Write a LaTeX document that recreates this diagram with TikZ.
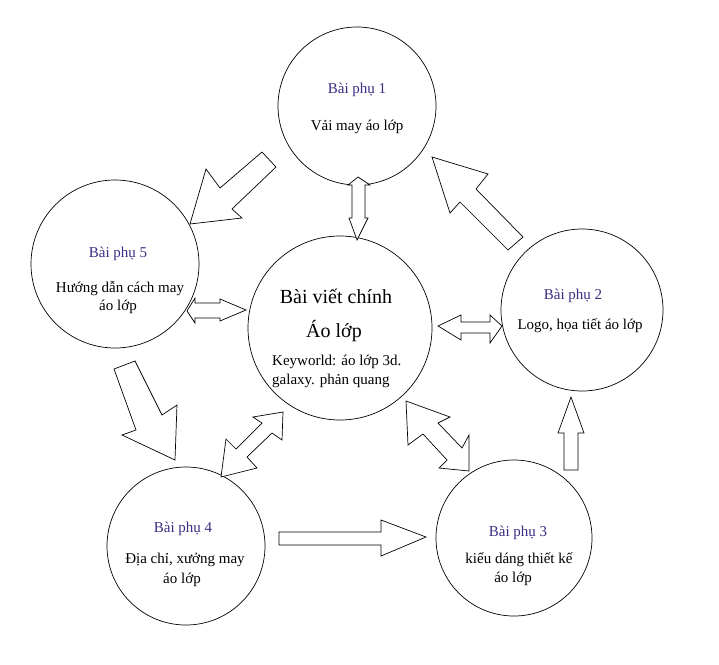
\documentclass[tikz,border=0pt]{standalone}
\usepackage{fontspec}
\setmainfont{Liberation Serif}
\definecolor{subc}{RGB}{62,44,130}
\tikzset{
  circ/.style={circle,draw=black,line width=0.7pt,inner sep=0pt},
  blk/.style={draw=black,fill=white,line width=0.7pt,line join=miter},
  ttl/.style={anchor=base,text=subc,font=\fontsize{15}{17}\selectfont,inner sep=0pt},
  txt/.style={anchor=base,text=black,font=\fontsize{15}{17}\selectfont,inner sep=0pt},
  big/.style={anchor=base,text=black,font=\fontsize{20}{22}\selectfont,inner sep=0pt}
}
\begin{document}
\begin{tikzpicture}[x=1pt,y=-1pt]
\useasboundingbox[fill=white] (0,0) rectangle (719,664);
% circles
\node[circ,minimum size=158pt] (c1) at (357,106) {};
\node[circ,minimum size=168pt] (c5) at (115,264) {};
\node[circ,minimum size=184pt] (cm) at (340,328) {};
\node[circ,minimum size=162pt] (c2) at (582,310) {};
\node[circ,minimum size=158pt] (c4) at (186,546) {};
\node[circ,minimum size=156pt] (c3) at (514,538) {};
% texts
\node[ttl] (t1) at (357,93) {Bài phụ 1};
\node[txt] (d1) at (357,130) {Vải may áo lớp};
\node[ttl] (t5) at (118,257) {Bài phụ 5};
\node[txt] (d5a) at (120,292) {Hướng dẫn cách may};
\node[txt] (d5b) at (118,310) {áo lớp};
\node[big] (tm) at (336,303) {Bài viết chính};
\node[big] (am) at (334,337) {Áo lớp};
\node[txt,anchor=base west] (km1) at (272,365) {Keyworld: áo lớp 3d.};
\node[txt,anchor=base west] (km2) at (272,384) {galaxy. phản quang};
\node[ttl] (t2) at (573,299) {Bài phụ 2};
\node[txt] (d2) at (580,329) {Logo, họa tiết áo lớp};
\node[ttl] (t4) at (183,532) {Bài phụ 4};
\node[txt] (d4a) at (185,563) {Địa chỉ, xưởng may};
\node[txt] (d4b) at (182,583) {áo lớp};
\node[ttl] (t3) at (518,536) {Bài phụ 3};
\node[txt] (d3a) at (519,563) {kiểu dáng thiết kế};
\node[txt] (d3b) at (513,582) {áo lớp};
% block arrows
% A: toward circle 5
\draw[blk] (262,152) -- (220,188) -- (206,169) -- (190,224) -- (242,218) -- (232,209) -- (276,167) -- cycle;
% B: toward circle 1
\draw[blk] (432,157) -- (488,174) -- (476,189) -- (523,237) -- (508,250) -- (460,202) -- (450,213) -- cycle;
% C: up toward circle 2
\draw[blk] (571,397) -- (584,433) -- (578,433) -- (578,470) -- (564,470) -- (564,433) -- (558,433) -- cycle;
% D: main <-> circle 3
\draw[blk] (406,401) -- (450,417) -- (438,423) -- (462,448) -- (469,435) -- (469,471) -- (439,468) -- (447,460) -- (423,434) -- (408,445) -- cycle;
% E: circle 4 <-> main
\draw[blk] (283,412) -- (282,440) -- (272,433) -- (247,457) -- (257,468) -- (221,477) -- (226,439) -- (236,449) -- (262,423) -- (253,417) -- cycle;
% F: circle 5 -> circle 4
\draw[blk] (114,369) -- (135,361) -- (162,415) -- (177,405) -- (175,460) -- (122,435) -- (136,430) -- cycle;
% G: circle 5 <-> main
\draw[blk] (187,311) -- (195,298) -- (195,303) -- (220,303) -- (220,299) -- (246,310) -- (220,321) -- (220,318) -- (195,318) -- (195,323) -- cycle;
% H: main <-> circle 2
\draw[blk] (438,326) -- (461,315) -- (461,322) -- (490,322) -- (490,315) -- (502,326) -- (490,343) -- (490,333) -- (461,333) -- (461,340) -- cycle;
% I: circle 1 <-> main
\draw[blk] (358,177) -- (370,185) -- (365,185) -- (365,218) -- (368,218) -- (357,240) -- (349,218) -- (352,218) -- (352,185) -- (348,185) -- cycle;
% J: circle 4 -> circle 3
\draw[blk] (279,532) -- (381,532) -- (381,520) -- (426,537) -- (381,556) -- (381,545) -- (279,545) -- cycle;
\end{tikzpicture}
\end{document}
